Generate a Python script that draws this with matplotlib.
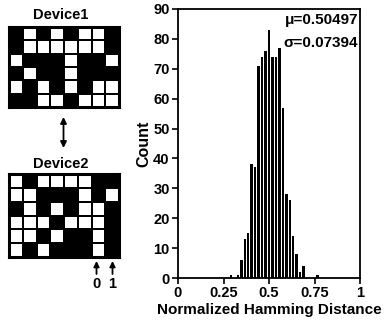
import numpy as np
import matplotlib
matplotlib.use("Agg")
import matplotlib.pyplot as plt
from matplotlib.colors import ListedColormap

plt.rcParams["font.family"] = ["Liberation Sans", "DejaVu Sans"]
plt.rcParams["font.weight"] = "bold"

# key bit maps (1 = white cell, 0 = black cell), 6 rows x 8 columns
device1 = [
    [0, 1, 0, 1, 0, 1, 1, 0],
    [0, 1, 1, 1, 1, 1, 1, 0],
    [1, 0, 0, 0, 1, 0, 0, 1],
    [0, 1, 0, 0, 1, 0, 0, 0],
    [1, 0, 1, 0, 1, 0, 1, 1],
    [0, 0, 1, 1, 0, 1, 1, 1],
]
device2 = [
    [1, 0, 1, 1, 1, 1, 0, 0],
    [1, 1, 0, 0, 0, 1, 0, 1],
    [0, 1, 0, 1, 0, 1, 1, 0],
    [1, 1, 1, 0, 1, 1, 1, 0],
    [1, 1, 0, 1, 0, 0, 1, 0],
    [1, 0, 1, 0, 0, 0, 1, 0],
]

# histogram of normalized Hamming distance
bin_centers = [0.291, 0.310, 0.329, 0.348, 0.367, 0.386, 0.405, 0.424, 0.443,
               0.462, 0.481, 0.500, 0.519, 0.538, 0.557, 0.576, 0.595, 0.614,
               0.633, 0.652, 0.671, 0.690, 0.709, 0.728, 0.747, 0.766]
counts = [1, 0, 1, 6, 13, 15, 38, 37, 71, 74, 76, 83, 74, 74, 77, 57, 28, 26,
          14, 8, 2, 4, 0, 0, 0, 1]
mu_text = "\u03bc=0.50497"
sigma_text = "\u03c3=0.07394"

W, H = 385, 320
fig = plt.figure(figsize=(W / 100, H / 100), dpi=100)
cmap = ListedColormap(["black", "white"])


def px_axes(x0, y0, x1, y1):
    return fig.add_axes([x0 / W, 1 - y1 / H, (x1 - x0) / W, (y1 - y0) / H])


def draw_grid(ax, bits):
    m = np.array(bits)
    ax.pcolormesh(m, cmap=cmap, vmin=0, vmax=1, edgecolors="black", linewidth=1.3)
    ax.set_xlim(0, m.shape[1])
    ax.set_ylim(m.shape[0], 0)
    ax.set_xticks([])
    ax.set_yticks([])
    for s in ax.spines.values():
        s.set_linewidth(2.2)


draw_grid(px_axes(9, 27, 119, 107), device1)
draw_grid(px_axes(9, 174, 119, 257), device2)

# overlay for labels and arrows, pixel coordinates
ov = fig.add_axes([0, 0, 1, 1], zorder=-1)
ov.set_xlim(0, W)
ov.set_ylim(H, 0)
ov.axis("off")
ov.text(61, 15, "Device1", ha="center", va="center", fontsize=10.5, fontweight="bold")
ov.text(61, 164, "Device2", ha="center", va="center", fontsize=10.5, fontweight="bold")
ov.annotate("", xy=(63.5, 117), xytext=(63.5, 148),
            arrowprops=dict(arrowstyle="<|-|>", color="black", lw=1.3,
                            mutation_scale=9, shrinkA=0, shrinkB=0))
for x, lab in [(96.5, "0"), (112.5, "1")]:
    ov.annotate("", xy=(x, 261), xytext=(x, 274),
                arrowprops=dict(arrowstyle="-|>", color="black", lw=1.3,
                                mutation_scale=8, shrinkA=0, shrinkB=0))
    ov.text(x, 284, lab, ha="center", va="center", fontsize=10.5, fontweight="bold")

# histogram
ax = px_axes(178, 9, 360, 278)
ax.bar(bin_centers, counts, width=0.0135, color="black", linewidth=0)
ax.set_xlim(0, 1)
ax.set_ylim(0, 90)
ax.set_xticks([0, 0.25, 0.5, 0.75, 1])
ax.set_xticklabels(["0", "0.25", "0.5", "0.75", "1"])
ax.set_yticks(range(0, 91, 10))
ax.tick_params(direction="out", length=4, width=1.2, labelsize=10.5, pad=2)
for s in ax.spines.values():
    s.set_linewidth(1.3)
ax.set_xlabel("Normalized Hamming Distance", fontsize=11, fontweight="bold", labelpad=2)
ax.set_ylabel("Count", fontsize=11.5, fontweight="bold", labelpad=1)
ax.text(0.99, 0.985, mu_text, transform=ax.transAxes, ha="right", va="top",
        fontsize=11, fontweight="bold")
ax.text(0.99, 0.90, sigma_text, transform=ax.transAxes, ha="right", va="top",
        fontsize=11, fontweight="bold")

fig.savefig("out.png", dpi=100)
